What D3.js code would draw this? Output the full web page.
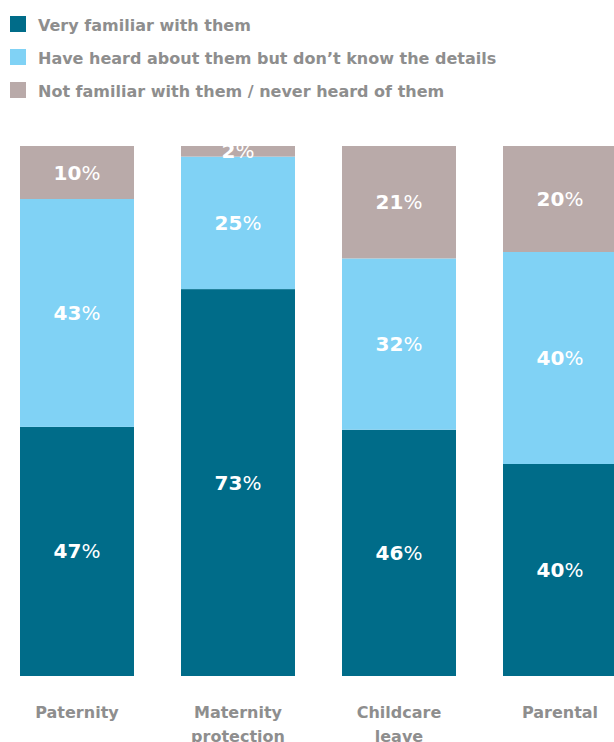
<!DOCTYPE html>
<html>
<head>
<meta charset="utf-8">
<script src="https://cdn.jsdelivr.net/npm/d3@7"></script>
<style>
  html, body { margin: 0; padding: 0; background: #fff; }
  svg { display: block; }
</style>
</head>
<body>
<svg id="chart" width="614" height="742"></svg>
<script>
// Awareness of leave entitlements, by type of leave
const categories = ["Paternity", "Maternity protection", "Childcare leave", "Parental"];
const categoryLines = [["Paternity"], ["Maternity", "protection"], ["Childcare", "leave"], ["Parental"]];
const seriesNames = [
  "Very familiar with them",
  "Have heard about them but don\u2019t know the details",
  "Not familiar with them / never heard of them"
];
const veryFamiliar = [47, 73, 46, 40];
const heardOf = [43, 25, 32, 40];
const notFamiliar = [10, 2, 21, 20];
const colors = ["#006c89", "#80d2f5", "#b9aaa9"];

const keys = ["very", "heard", "not"];
const rows = categories.map((c, i) => ({
  category: c,
  very: veryFamiliar[i],
  heard: heardOf[i],
  not: notFamiliar[i]
}));

const svg = d3.select("#chart");
const textGray = "#8e8e8e";
const font = "'DejaVu Sans', sans-serif";

// Legend
const legend = svg.append("g");
seriesNames.forEach((name, i) => {
  const g = legend.append("g").attr("transform", `translate(10,${16 + i * 33})`);
  g.append("rect").attr("width", 16).attr("height", 16).attr("fill", colors[i]);
  g.append("text")
    .attr("x", 28).attr("y", 15)
    .attr("font-family", font)
    .attr("font-weight", 700)
    .attr("font-size", 16)
    .attr("fill", textGray)
    .text(name);
});

// Scales
const x = d3.scaleBand()
  .domain(categories)
  .range([20, 617])
  .paddingInner(0.292)
  .paddingOuter(0);

const y = d3.scaleLinear().domain([0, 1]).range([676, 146]);

// Each bar is shown as a share of its own total
const stacked = d3.stack().keys(keys).offset(d3.stackOffsetExpand)(rows);

const layers = svg.append("g").selectAll("g")
  .data(stacked)
  .join("g")
  .attr("fill", (d, i) => colors[i]);

layers.selectAll("rect")
  .data(d => d)
  .join("rect")
  .attr("x", d => x(d.data.category))
  .attr("width", x.bandwidth())
  .attr("y", d => y(d[1]))
  .attr("height", d => y(d[0]) - y(d[1]));

// Value labels
const labels = svg.append("g");
stacked.forEach(layer => {
  layer.forEach(d => {
    const cx = x(d.data.category) + x.bandwidth() / 2;
    const cy = (y(d[0]) + y(d[1])) / 2;
    const t = labels.append("text")
      .attr("x", cx)
      .attr("y", cy + 7)
      .attr("text-anchor", "middle")
      .attr("font-family", font)
      .attr("font-size", 20)
      .attr("fill", "#fff");
    t.append("tspan").attr("font-weight", 700).text(d.data[layer.key]);
    t.append("tspan").attr("font-weight", 400).text("%");
  });
});

// Category labels
const catLabels = svg.append("g");
categories.forEach((c, i) => {
  const t = catLabels.append("text")
    .attr("x", x(c) + x.bandwidth() / 2)
    .attr("y", 718)
    .attr("text-anchor", "middle")
    .attr("font-family", font)
    .attr("font-weight", 700)
    .attr("font-size", 16)
    .attr("fill", textGray);
  categoryLines[i].forEach((line, j) => {
    t.append("tspan")
      .attr("x", x(c) + x.bandwidth() / 2)
      .attr("dy", j === 0 ? 0 : 24)
      .text(line);
  });
});
</script>
</body>
</html>
